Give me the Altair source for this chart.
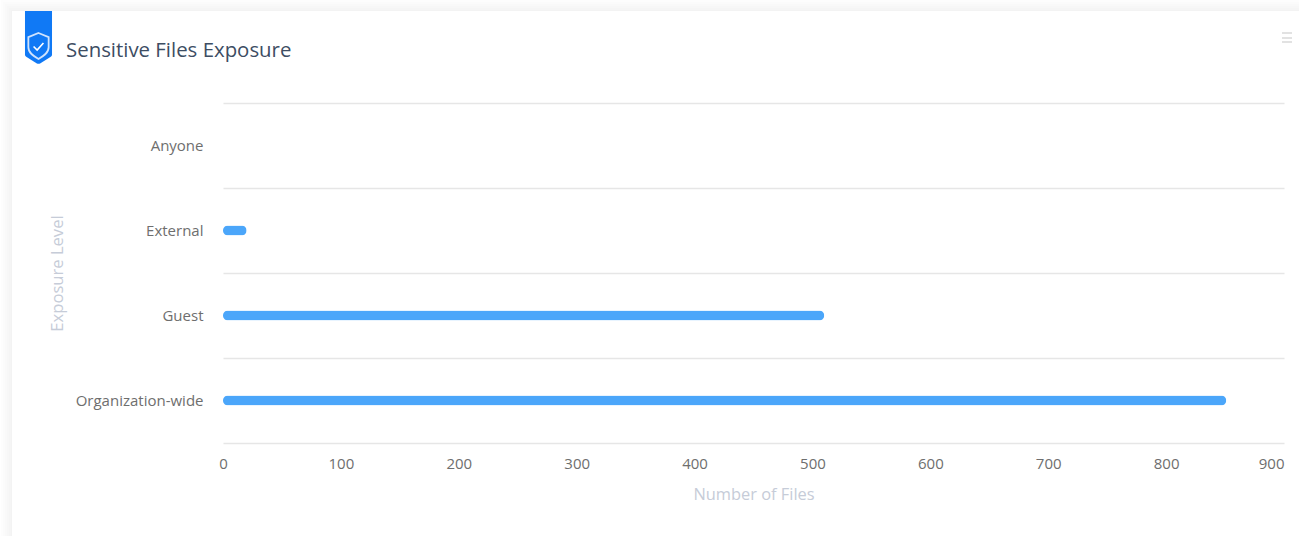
import altair as alt
import pandas as pd

# Exposure counts per sharing level
levels = ["Anyone", "External", "Guest", "Organization-wide"]
file_counts = [0, 20, 510, 851]
x_ticks = [0, 100, 200, 300, 400, 500, 600, 700, 800, 900]

W, H = 1061, 340
LEFT, TOP = 223, 103
FONT = "Open Sans"

bars_df = pd.DataFrame({"level": levels, "files": file_counts})

# Card shadow, built from nested translucent rectangles
shadow_steps = [11, 9, 7, 5, 3, 1]
shadow = alt.layer(*[
    alt.Chart(pd.DataFrame({"a": [0]})).mark_rect(fill="#000000", opacity=0.006, clip=False).encode(
        x=alt.value(12 - s - LEFT), x2=alt.value(1299 - LEFT + 20),
        y=alt.value(11 - s - TOP), y2=alt.value(536 - TOP + 20),
    )
    for s in shadow_steps
])
card = alt.Chart(pd.DataFrame({"a": [0]})).mark_rect(fill="#ffffff").encode(
    x=alt.value(12 - LEFT), x2=alt.value(1299 - LEFT + 20),
    y=alt.value(11 - TOP), y2=alt.value(536 - TOP + 20),
)

# Ribbon badge with a shield and check mark
ribbon = alt.Chart(pd.DataFrame({"a": [0]})).mark_point(
    shape="M-0.51,-1L0.51,-1L0.51,0.66Q0.51,0.7 0.45,0.74L0.06,0.98Q0,1 -0.06,0.98L-0.45,0.74Q-0.51,0.7 -0.51,0.66Z",
    filled=True, fill="#1079f5", stroke=None, opacity=1, size=2809,
).encode(x=alt.value(38.5 - LEFT), y=alt.value(37.5 - TOP))
shield = alt.Chart(pd.DataFrame({"a": [0]})).mark_point(
    shape="M0,-1L0.78,-0.68L0.78,0.1C0.78,0.55 0.35,0.8 0,1C-0.35,0.8 -0.78,0.55 -0.78,0.1L-0.78,-0.68Z",
    filled=False, stroke="#cfe3fd", strokeWidth=1.8, opacity=1, size=676,
).encode(x=alt.value(38.5 - LEFT), y=alt.value(46 - TOP))
check = alt.Chart(pd.DataFrame({"a": [0]})).mark_point(
    shape="M-0.9,0L-0.25,0.65L0.9,-0.65",
    filled=False, stroke="#ffffff", strokeWidth=1.6, opacity=1, size=120,
).encode(x=alt.value(38.5 - LEFT), y=alt.value(46.5 - TOP))

title = alt.Chart(pd.DataFrame({"t": ["Sensitive Files Exposure"]})).mark_text(
    align="left", baseline="middle", font=FONT, fontSize=20.4, color="#3d4d63",
).encode(x=alt.value(66 - LEFT), y=alt.value(51 - TOP), text="t:N")

# Context menu glyph in the top right corner
menu_rows = [33, 38, 42]
menu = alt.layer(*[
    alt.Chart(pd.DataFrame({"a": [0]})).mark_rule(color="#e2e2e2", strokeWidth=2).encode(
        x=alt.value(1282 - LEFT), x2=alt.value(1292 - LEFT), y=alt.value(r - TOP),
    )
    for r in menu_rows
])

bars = alt.Chart(bars_df).mark_bar(
    color="#4ba6fa", size=10, cornerRadius=5,
).encode(
    x=alt.X(
        "files:Q",
        scale=alt.Scale(domain=[0, 900], nice=False),
        axis=alt.Axis(
            values=x_ticks, title="Number of Files", grid=False, domain=False, ticks=False,
            zindex=1,
            labelFont=FONT, labelFontSize=15, labelColor="#6e6e6e", labelPadding=13,
            labelAlign=alt.condition("datum.value == 900", alt.value("right"), alt.value("center")),
            titleFont=FONT, titleFontSize=16.4, titleFontWeight="normal", titleColor="#c6ccd8",
            titlePadding=15,
        ),
    ),
    y=alt.Y(
        "level:N", sort=levels,
        scale=alt.Scale(paddingInner=0, paddingOuter=0),
        axis=alt.Axis(
            title="Exposure Level", grid=True, gridColor="#e6e6e6", gridWidth=1.5, domain=False, ticks=False,
            zindex=1,
            tickBand="extent", labelFont=FONT, labelFontSize=15, labelColor="#6e6e6e",
            labelPadding=20, titleFont=FONT, titleFontSize=16.6, titleFontWeight="normal",
            titleColor="#c6ccd8", titlePadding=10,
        ),
    ),
)

chart = alt.layer(shadow, card, bars, ribbon, shield, check, title, menu).properties(
    width=W, height=H,
    padding={"left": LEFT, "top": TOP, "right": 1299 - LEFT - W, "bottom": 536 - TOP - H},
    autosize=alt.AutoSizeParams(type="none"),
    background="#ffffff",
).configure_view(stroke=None)

chart.save("out.html", embed_options={"renderer": "svg", "actions": False})
